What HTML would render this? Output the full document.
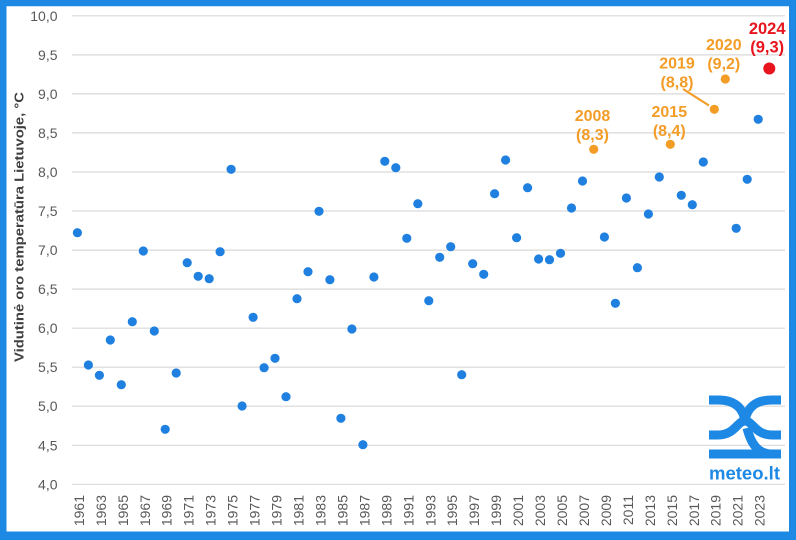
<!DOCTYPE html>
<html><head><meta charset="utf-8">
<style>
html,body{margin:0;padding:0;background:#fff;}
svg{display:block;}
text{font-family:"Liberation Sans",sans-serif;}
</style></head>
<body>
<svg width="796" height="540" viewBox="0 0 796 540" xmlns="http://www.w3.org/2000/svg">
<rect x="0" y="0" width="796" height="540" fill="#fff"/>
<!-- border -->
<rect x="3.25" y="3" width="789.25" height="533" fill="none" stroke="#1E88E5" stroke-width="6.5"/>
<rect x="0" y="531.5" width="796" height="8.5" fill="#1E88E5"/>
<rect x="789" y="0" width="7" height="540" fill="#1E88E5"/>

<!-- gridlines -->
<g stroke="#D9D9D9" stroke-width="1.2">
<line x1="72" x2="785" y1="15.8" y2="15.8"/>
<line x1="72" x2="785" y1="54.85" y2="54.85"/>
<line x1="72" x2="785" y1="93.9" y2="93.9"/>
<line x1="72" x2="785" y1="132.9" y2="132.9"/>
<line x1="72" x2="785" y1="172" y2="172"/>
<line x1="72" x2="785" y1="211.0" y2="211.0"/>
<line x1="72" x2="785" y1="250.1" y2="250.1"/>
<line x1="72" x2="785" y1="289.1" y2="289.1"/>
<line x1="72" x2="785" y1="328.2" y2="328.2"/>
<line x1="72" x2="785" y1="367.2" y2="367.2"/>
<line x1="72" x2="785" y1="406.2" y2="406.2"/>
<line x1="72" x2="785" y1="445.3" y2="445.3"/>
<line x1="72" x2="785" y1="484.3" y2="484.3"/>
</g>

<!-- y tick labels -->
<g fill="#595959" font-size="14" text-anchor="end">
<text x="57.5" y="20.8">10,0</text>
<text x="57.5" y="59.9">9,5</text>
<text x="57.5" y="98.9">9,0</text>
<text x="57.5" y="137.9">8,5</text>
<text x="57.5" y="177">8,0</text>
<text x="57.5" y="216">7,5</text>
<text x="57.5" y="255.1">7,0</text>
<text x="57.5" y="294.1">6,5</text>
<text x="57.5" y="333.2">6,0</text>
<text x="57.5" y="372.2">5,5</text>
<text x="57.5" y="411.2">5,0</text>
<text x="57.5" y="450.3">4,5</text>
<text x="57.5" y="489.3">4,0</text>
</g>

<!-- y axis title -->
<text transform="translate(23.5,227) rotate(-90)" text-anchor="middle" font-size="13" font-weight="bold" fill="#404040" textLength="270" lengthAdjust="spacingAndGlyphs">Vidutinė oro temperatūra Lietuvoje, °C</text>

<!-- x labels -->
<g fill="#595959" font-size="14" text-anchor="end">
<text transform="translate(83.9,495) rotate(-90)">1961</text>
<text transform="translate(105.9,495) rotate(-90)">1963</text>
<text transform="translate(127.8,495) rotate(-90)">1965</text>
<text transform="translate(149.8,495) rotate(-90)">1967</text>
<text transform="translate(171.7,495) rotate(-90)">1969</text>
<text transform="translate(193.7,495) rotate(-90)">1971</text>
<text transform="translate(215.7,495) rotate(-90)">1973</text>
<text transform="translate(237.6,495) rotate(-90)">1975</text>
<text transform="translate(259.6,495) rotate(-90)">1977</text>
<text transform="translate(281.5,495) rotate(-90)">1979</text>
<text transform="translate(303.5,495) rotate(-90)">1981</text>
<text transform="translate(325.5,495) rotate(-90)">1983</text>
<text transform="translate(347.4,495) rotate(-90)">1985</text>
<text transform="translate(369.4,495) rotate(-90)">1987</text>
<text transform="translate(391.3,495) rotate(-90)">1989</text>
<text transform="translate(413.3,495) rotate(-90)">1991</text>
<text transform="translate(435.3,495) rotate(-90)">1993</text>
<text transform="translate(457.2,495) rotate(-90)">1995</text>
<text transform="translate(479.2,495) rotate(-90)">1997</text>
<text transform="translate(501.1,495) rotate(-90)">1999</text>
<text transform="translate(523.1,495) rotate(-90)">2001</text>
<text transform="translate(545.1,495) rotate(-90)">2003</text>
<text transform="translate(567.0,495) rotate(-90)">2005</text>
<text transform="translate(589.0,495) rotate(-90)">2007</text>
<text transform="translate(610.9,495) rotate(-90)">2009</text>
<text transform="translate(632.9,495) rotate(-90)">2011</text>
<text transform="translate(654.9,495) rotate(-90)">2013</text>
<text transform="translate(676.8,495) rotate(-90)">2015</text>
<text transform="translate(698.8,495) rotate(-90)">2017</text>
<text transform="translate(720.7,495) rotate(-90)">2019</text>
<text transform="translate(742.7,495) rotate(-90)">2021</text>
<text transform="translate(764.7,495) rotate(-90)">2023</text>
</g>

<!-- logo -->
<g fill="none" stroke="#1E88E5" stroke-width="9">
<path d="M709,400 L718,400 C735,400 743,408 745,421"/>
<path d="M781,400 L772,400 C755,400 747,408 745,421"/>
<path d="M709,435 L718,435 C735,435 737,421 745,421 C753,421 755,435 772,435 L781,435"/>
<path d="M709,454 L781,454"/>
<path d="M747,428 C751,444 758,454 772,454"/>
</g>
<text x="709" y="479.5" font-size="18" font-weight="bold" fill="#1E88E5" textLength="71" lengthAdjust="spacingAndGlyphs">meteo.lt</text>

<!-- blue dots -->
<g fill="#1F80E0">
<circle cx="77.4" cy="232.7" r="4.6"/>
<circle cx="88.4" cy="365" r="4.6"/>
<circle cx="99.4" cy="375.3" r="4.6"/>
<circle cx="110.3" cy="340" r="4.6"/>
<circle cx="121.3" cy="384.7" r="4.6"/>
<circle cx="132.3" cy="321.7" r="4.6"/>
<circle cx="143.3" cy="251" r="4.6"/>
<circle cx="154.3" cy="331" r="4.6"/>
<circle cx="165.2" cy="429.3" r="4.6"/>
<circle cx="176.2" cy="373" r="4.6"/>
<circle cx="187.2" cy="262.7" r="4.6"/>
<circle cx="198.2" cy="276.3" r="4.6"/>
<circle cx="209.2" cy="278.7" r="4.6"/>
<circle cx="220.1" cy="251.7" r="4.6"/>
<circle cx="231.1" cy="169.3" r="4.6"/>
<circle cx="242.1" cy="406" r="4.6"/>
<circle cx="253.1" cy="317.3" r="4.6"/>
<circle cx="264.1" cy="367.7" r="4.6"/>
<circle cx="275.0" cy="358.3" r="4.6"/>
<circle cx="286.0" cy="396.7" r="4.6"/>
<circle cx="297.0" cy="298.7" r="4.6"/>
<circle cx="308.0" cy="271.7" r="4.6"/>
<circle cx="319.0" cy="211.3" r="4.6"/>
<circle cx="329.9" cy="279.7" r="4.6"/>
<circle cx="340.9" cy="418.3" r="4.6"/>
<circle cx="351.9" cy="329" r="4.6"/>
<circle cx="362.9" cy="444.7" r="4.6"/>
<circle cx="373.9" cy="277" r="4.6"/>
<circle cx="384.8" cy="161.3" r="4.6"/>
<circle cx="395.8" cy="167.7" r="4.6"/>
<circle cx="406.8" cy="238.3" r="4.6"/>
<circle cx="417.8" cy="203.7" r="4.6"/>
<circle cx="428.8" cy="300.7" r="4.6"/>
<circle cx="439.7" cy="257.3" r="4.6"/>
<circle cx="450.7" cy="246.7" r="4.6"/>
<circle cx="461.7" cy="374.7" r="4.6"/>
<circle cx="472.7" cy="263.7" r="4.6"/>
<circle cx="483.7" cy="274.3" r="4.6"/>
<circle cx="494.6" cy="193.7" r="4.6"/>
<circle cx="505.6" cy="160" r="4.6"/>
<circle cx="516.6" cy="237.7" r="4.6"/>
<circle cx="527.6" cy="187.7" r="4.6"/>
<circle cx="538.6" cy="259" r="4.6"/>
<circle cx="549.5" cy="259.7" r="4.6"/>
<circle cx="560.5" cy="253.3" r="4.6"/>
<circle cx="571.5" cy="208" r="4.6"/>
<circle cx="582.5" cy="181" r="4.6"/>
<circle cx="604.4" cy="237" r="4.6"/>
<circle cx="615.4" cy="303.3" r="4.6"/>
<circle cx="626.4" cy="198" r="4.6"/>
<circle cx="637.4" cy="267.7" r="4.6"/>
<circle cx="648.4" cy="214" r="4.6"/>
<circle cx="659.3" cy="177" r="4.6"/>
<circle cx="681.3" cy="195.3" r="4.6"/>
<circle cx="692.3" cy="204.7" r="4.6"/>
<circle cx="703.3" cy="162" r="4.6"/>
<circle cx="736.2" cy="228.3" r="4.6"/>
<circle cx="747.2" cy="179.3" r="4.6"/>
<circle cx="758.2" cy="119.3" r="4.6"/>
</g>

<!-- orange highlights -->
<line x1="683" y1="89" x2="709" y2="105.5" stroke="#F39C26" stroke-width="2.2"/>
<g fill="#F39C26">
<circle cx="593.7" cy="149.3" r="4.6"/>
<circle cx="670.3" cy="144.3" r="4.6"/>
<circle cx="714.3" cy="109.3" r="4.6"/>
<circle cx="725.3" cy="79" r="4.6"/>
</g>
<g fill="#F39C26" font-size="16" font-weight="bold" text-anchor="middle">
<text x="592.5" y="121">2008</text>
<text x="592.5" y="140">(8,3)</text>
<text x="669.3" y="117">2015</text>
<text x="669.3" y="136">(8,4)</text>
<text x="677" y="68.5">2019</text>
<text x="677" y="87.5">(8,8)</text>
<text x="723.8" y="50">2020</text>
<text x="723.8" y="69">(9,2)</text>
</g>

<!-- red 2024 -->
<circle cx="769.3" cy="68.5" r="6" fill="#E8141E"/>
<g fill="#E8141E" font-size="16.5" font-weight="bold" text-anchor="middle">
<text x="767.2" y="34">2024</text>
<text x="767.2" y="52.5">(9,3)</text>
</g>
</svg>
</body></html>
